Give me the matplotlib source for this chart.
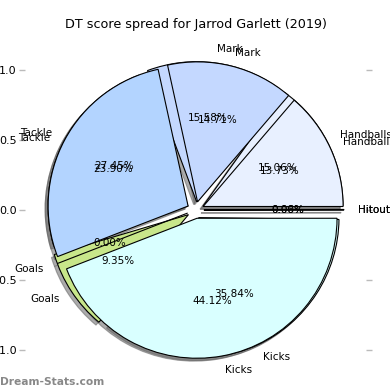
import matplotlib
matplotlib.use("Agg")
import matplotlib.pyplot as plt

# slice order (counter-clockwise from 3 o'clock)
labels = ['Hitout', 'Handballs', 'Mark', 'Tackle', 'Goals', 'Kicks']
# first spread as fractions (drawn underneath, not normalised: sums < 1)
spread_a = [0.0006, 0.1506, 0.1558, 0.2390, 0.0935, 0.3584]
# second spread as fractions (drawn on top)
spread_b = [0.0, 0.1373, 0.1471, 0.2745, 0.0, 0.4412]
colors = ['#f0f0f0', '#e8f0ff', '#c4d8ff', '#b3d4ff', '#c8e68a', '#d9ffff']
explode = [0.06] * len(labels)
yticks = [-1.0, -0.5, 0.0, 0.5, 1.0]

fig = plt.figure(figsize=(3.9, 3.9), dpi=100)
ax = fig.add_axes([25 / 390, 9.5 / 390, 341 / 390, 341 / 390])

for spread, norm in ((spread_a, False), (spread_b, True)):
    ax.pie(spread, labels=labels, colors=colors, explode=explode,
           autopct='%1.2f%%', startangle=0, frame=True, normalize=norm,
           shadow={'ox': -0.015, 'oy': -0.015, 'facecolor': '#666666',
                   'edgecolor': '#666666', 'alpha': 0.55},
           wedgeprops={'edgecolor': 'black', 'linewidth': 0.8},
           textprops={'fontsize': 7.5})

ax.set_xlim(-1.218, 1.218)
ax.set_ylim(-1.218, 1.218)
ax.set_aspect('equal')
for s in ax.spines.values():
    s.set_visible(False)
ax.set_xticks([])
ax.set_yticks(yticks)
ax.set_yticklabels([f'{v:.1f}' for v in yticks])
ax.tick_params(axis='y', which='both', left=True, right=True,
               color='#bbbbbb', length=4, width=1, labelsize=8, pad=2)
ax.set_title('DT score spread for Jarrod Garlett (2019)', fontsize=9.2, pad=8)

fig.text(0.0, 0.008, 'Dream-Stats.com', fontsize=7.7, color='#888888',
         fontweight='bold', ha='left', va='bottom')

fig.savefig('out.png', dpi=100)
